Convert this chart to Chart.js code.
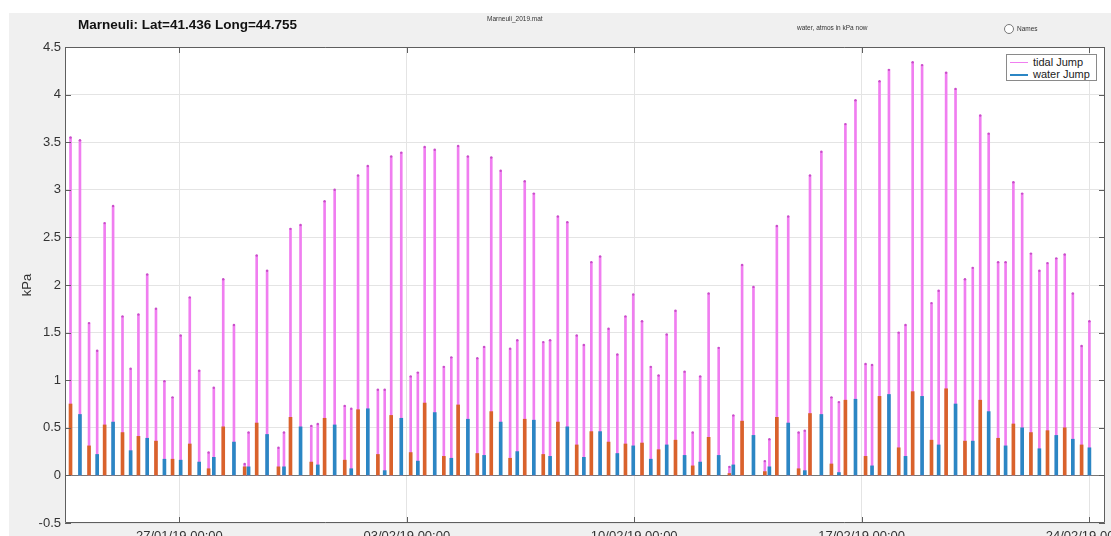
<!DOCTYPE html>
<html>
<head>
<meta charset="utf-8">
<script src="https://cdn.jsdelivr.net/npm/chart.js@4.4.1/dist/chart.umd.min.js"></script>
<style>
  body { margin: 0; font-family: "Liberation Sans", Arial, sans-serif; }
  #wrap { position: relative; width: 1111px; height: 536px; background: #fff; overflow: hidden; }
  #panel { position: absolute; left: 9px; top: 13px; right: 0; bottom: 0; background: #f0f0f0; }
  #chart { position: absolute; left: 0; top: 0; }
  .txt { position: absolute; white-space: nowrap; color: #222; }
  #title { left: 78px; top: 17px; font-size: 13.5px; line-height: 16px; font-weight: bold; color: #111; }
  #file { left: 487px; top: 15px; font-size: 6.5px; line-height: 8px; color: #333; }
  #note { left: 797px; top: 24px; font-size: 6.5px; line-height: 8px; color: #333; }
  #radio { position: absolute; left: 1004px; top: 24px; width: 8px; height: 8px; border: 1px solid #777; border-radius: 50%; background: #fff; }
  #names { left: 1017px; top: 25px; font-size: 6.5px; line-height: 8px; color: #333; }
  #legend { position: absolute; left: 1006px; top: 54px; width: 89px; height: 25px; background: #fff; border: 1px solid #8a8a8a; font-size: 11px; color: #222; }
  #legend .row { position: absolute; left: 0; height: 12px; line-height: 12px; }
  #legend .sw { position: absolute; left: 3px; top: 6px; width: 18px; }
  #legend .lb { position: absolute; left: 26px; top: 0; white-space: nowrap; }
</style>
</head>
<body>
<div id="wrap">
  <div id="panel"></div>
  <canvas id="chart" width="1111" height="536"></canvas>
  <div class="txt" id="title">Marneuli: Lat=41.436 Long=44.755</div>
  <div class="txt" id="file">Marneuli_2019.mat</div>
  <div class="txt" id="note">water, atmos in kPa now</div>
  <div id="radio"></div>
  <div class="txt" id="names">Names</div>
  <div id="legend">
    <div class="row" style="top:1px"><div class="sw" style="height:1px;background:#f07ef0"></div><span class="lb">tidal Jump</span></div>
    <div class="row" style="top:13px"><div class="sw" style="height:2px;background:#2b86c4"></div><span class="lb">water Jump</span></div>
  </div>
</div>
<script>
// event times in days from 27/01/19 00:00
const eventDay = [
  -3.35, -3.06, -2.78, -2.53, -2.30, -2.04, -1.75, -1.50, -1.26, -0.99,
  -0.72, -0.46, -0.21, 0.04, 0.32, 0.61, 0.90, 1.06, 1.35, 1.68,
  2.01, 2.13, 2.38, 2.70, 3.05, 3.22, 3.42, 3.73, 4.06, 4.26,
  4.47, 4.78, 5.09, 5.29, 5.50, 5.80, 6.11, 6.32, 6.52, 6.83,
  7.12, 7.34, 7.55, 7.86, 8.14, 8.37, 8.58, 8.88, 9.17, 9.38,
  9.60, 9.89, 10.18, 10.40, 10.63, 10.91, 11.20, 11.41, 11.65, 11.94,
  12.23, 12.45, 12.68, 12.95, 13.21, 13.48, 13.73, 13.97, 14.24, 14.51,
  14.75, 15.00, 15.27, 15.55, 15.80, 16.03, 16.29, 16.60, 16.93, 17.05,
  17.32, 17.67, 18.02, 18.16, 18.39, 18.74, 19.06, 19.25, 19.41, 19.76,
  20.07, 20.30, 20.50, 20.81, 21.12, 21.32, 21.55, 21.84, 22.14, 22.35,
  22.57, 22.86, 23.15, 23.37, 23.60, 23.89, 24.18, 24.42, 24.65, 24.91,
  25.20, 25.43, 25.67, 25.94, 26.21, 26.47, 26.72, 26.99, 27.25, 27.50,
  27.77, 28.01
];

const tidalJump = [
  3.55, 3.52, 1.60, 1.31, 2.65, 2.83, 1.67, 1.12, 1.69, 2.11,
  1.75, 0.99, 0.82, 1.47, 1.87, 1.10, 0.24, 0.92, 2.06, 1.58,
  0.12, 0.45, 2.31, 2.15, 0.29, 0.45, 2.59, 2.63, 0.52, 0.54,
  2.88, 3.00, 0.73, 0.70, 3.15, 3.25, 0.90, 0.90, 3.35, 3.39,
  1.04, 1.08, 3.45, 3.42, 1.14, 1.24, 3.46, 3.35, 1.23, 1.35,
  3.34, 3.20, 1.33, 1.42, 3.09, 2.96, 1.40, 1.42, 2.72, 2.66,
  1.47, 1.37, 2.24, 2.30, 1.54, 1.27, 1.67, 1.90, 1.62, 1.14,
  1.05, 1.48, 1.73, 1.09, 0.45, 1.04, 1.91, 1.34, 0.09, 0.63,
  2.21, 1.98, 0.15, 0.38, 2.62, 2.72, 0.45, 0.47, 3.15, 3.40,
  0.82, 0.77, 3.69, 3.94, 1.17, 1.16, 4.14, 4.26, 1.50, 1.58,
  4.34, 4.31, 1.81, 1.94, 4.23, 4.06, 2.06, 2.18, 3.78, 3.59,
  2.24, 2.24, 3.08, 2.96, 2.33, 2.15, 2.23, 2.28, 2.32, 1.91,
  1.36, 1.62
];

const waterJump = [
  0.75, 0.64, 0.31, 0.22, 0.53, 0.56, 0.45, 0.26, 0.41, 0.39,
  0.36, 0.17, 0.17, 0.16, 0.33, 0.14, 0.07, 0.19, 0.51, 0.35,
  0.09, 0.09, 0.55, 0.43, 0.09, 0.09, 0.61, 0.51, 0.14, 0.11,
  0.60, 0.53, 0.16, 0.07, 0.69, 0.70, 0.22, 0.05, 0.63, 0.60,
  0.24, 0.15, 0.76, 0.66, 0.20, 0.18, 0.74, 0.59, 0.23, 0.21,
  0.67, 0.56, 0.18, 0.25, 0.59, 0.58, 0.22, 0.20, 0.56, 0.51,
  0.32, 0.19, 0.46, 0.46, 0.35, 0.23, 0.33, 0.31, 0.34, 0.17,
  0.27, 0.32, 0.37, 0.21, 0.10, 0.14, 0.40, 0.21, 0.02, 0.11,
  0.57, 0.42, 0.04, 0.09, 0.61, 0.55, 0.07, 0.05, 0.65, 0.64,
  0.12, 0.03, 0.79, 0.80, 0.20, 0.10, 0.83, 0.85, 0.29, 0.20,
  0.88, 0.83, 0.37, 0.32, 0.91, 0.75, 0.36, 0.36, 0.79, 0.67,
  0.39, 0.31, 0.54, 0.50, 0.45, 0.28, 0.47, 0.42, 0.50, 0.38,
  0.32, 0.29
];

const tickDays = [0, 7, 14, 21, 28];
const tickLabels = ["27/01/19 00:00", "03/02/19 00:00", "10/02/19 00:00", "17/02/19 00:00", "24/02/19 00:00"];

const ORANGE = "#d9622b";
const BLUE = "#2b86c4";
const PINK = "#f07ef0";

const tidalPts = eventDay.map((d, i) => ({ x: d, y: tidalJump[i] }));
const waterPts = eventDay.map((d, i) => ({ x: d, y: waterJump[i] }));

// white plot box
const plotBg = {
  id: "plotBg",
  beforeDraw(chart) {
    const { ctx, chartArea: a } = chart;
    ctx.save();
    ctx.fillStyle = "#fff";
    ctx.fillRect(a.left, a.top, a.right - a.left, a.bottom - a.top);
    ctx.restore();
  }
};

// matlab style box with inward ticks on all sides
const frameTicks = {
  id: "frameTicks",
  afterDraw(chart) {
    const { ctx, chartArea: a, scales: { x, y } } = chart;
    ctx.save();
    ctx.strokeStyle = "#5e5e5e";
    ctx.lineWidth = 1;
    ctx.beginPath();
    ctx.rect(a.left + 0.5, a.top + 0.5, a.right - a.left - 1, a.bottom - a.top - 1);
    x.ticks.forEach(t => {
      const px = Math.round(x.getPixelForValue(t.value)) + 0.5;
      ctx.moveTo(px, a.top); ctx.lineTo(px, a.top + 6);
      ctx.moveTo(px, a.bottom); ctx.lineTo(px, a.bottom - 6);
    });
    y.ticks.forEach(t => {
      const py = Math.round(y.getPixelForValue(t.value)) + 0.5;
      ctx.moveTo(a.left, py); ctx.lineTo(a.left + 6, py);
      ctx.moveTo(a.right, py); ctx.lineTo(a.right - 6, py);
    });
    ctx.stroke();
    ctx.restore();
  }
};

new Chart(document.getElementById("chart"), {
  type: "bar",
  data: {
    datasets: [
      {
        label: "tidal Jump",
        data: tidalPts,
        backgroundColor: PINK,
        barThickness: 2,
        grouped: false,
        order: 3
      },
      {
        type: "line",
        label: "tidal tops",
        data: tidalPts,
        showLine: false,
        pointRadius: 1.2,
        pointBackgroundColor: "#c84fc8",
        pointBorderWidth: 0,
        order: 2
      },
      {
        label: "water Jump",
        data: waterPts,
        backgroundColor: c => (c.dataIndex % 2 ? BLUE : ORANGE),
        barThickness: 3,
        grouped: false,
        order: 1
      }
    ]
  },
  options: {
    responsive: false,
    animation: false,
    layout: { padding: { left: 0, top: 47, right: 6, bottom: 0 } },
    plugins: {
      legend: { display: false },
      tooltip: { enabled: false }
    },
    scales: {
      x: {
        type: "linear",
        min: -3.52,
        max: 28.49,
        offset: false,
        grid: { offset: false, drawTicks: false, color: "#e4e4e4" },
        border: { display: false },
        afterBuildTicks: axis => { axis.ticks = tickDays.map(v => ({ value: v })); },
        afterFit: s => { s.height = 13; s.paddingLeft = 0; s.paddingRight = 0; },
        ticks: {
          autoSkip: false,
          maxRotation: 0,
          padding: 6,
          color: "#333",
          font: { family: "'Liberation Sans', Arial", size: 13 },
          callback: (v, i) => tickLabels[i]
        }
      },
      y: {
        min: -0.5,
        max: 4.5,
        grid: {
          drawTicks: false,
          color: c => (c.tick.value === 0 ? "#777" : "#e4e4e4")
        },
        border: { display: false },
        afterFit: s => { s.width = 65; },
        ticks: {
          stepSize: 0.5,
          padding: 4,
          color: "#333",
          font: { family: "'Liberation Sans', Arial", size: 13 },
          callback: v => String(+v.toFixed(2))
        },
        title: {
          display: true,
          text: "kPa",
          color: "#333",
          padding: { top: 20, bottom: 0 },
          font: { family: "'Liberation Sans', Arial", size: 13 }
        }
      }
    }
  },
  plugins: [plotBg, frameTicks]
});
</script>
</body>
</html>
